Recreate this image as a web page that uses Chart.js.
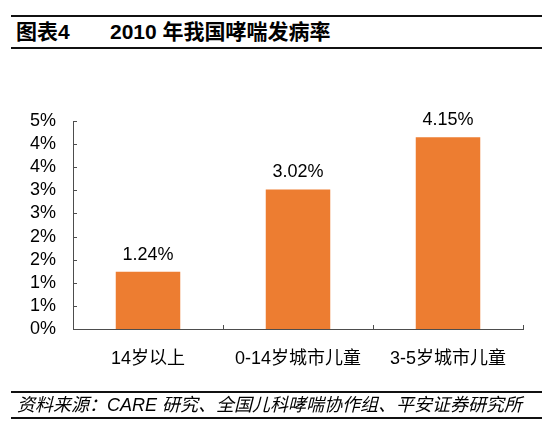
<!DOCTYPE html>
<html>
<head>
<meta charset="utf-8">
<script src="https://cdn.jsdelivr.net/npm/chart.js@4.4.1/dist/chart.umd.min.js"></script>
<style>
  body { margin: 0; background: #fff; }
  #wrap {
    position: relative;
    width: 554px;
    height: 428px;
    overflow: hidden;
    font-family: "Liberation Sans", "Noto Sans CJK SC", sans-serif;
    color: #000;
  }
  .rule { position: absolute; left: 11px; width: 531px; height: 2px; background: #111; }
  #title { position: absolute; top: 17px; font-size: 21px; font-weight: bold; line-height: 30px; white-space: nowrap; }
  #source { position: absolute; left: 17px; top: 393px; font-size: 18px; font-style: italic; line-height: 24px; white-space: nowrap; }
  canvas { position: absolute; left: 0; top: 0; }
</style>
</head>
<body>
<div id="wrap">
  <div class="rule" style="top:15px"></div>
  <div id="title"><span style="position:absolute;left:16px">图表4</span><span style="position:absolute;left:110px">2010 年我国哮喘发病率</span></div>
  <div class="rule" style="top:47px"></div>
  <canvas id="chart" width="554" height="428"></canvas>
  <div class="rule" style="top:391px"></div>
  <div id="source">资料来源：CARE 研究、全国儿科哮喘协作组、平安证券研究所</div>
  <div class="rule" style="top:417px"></div>
</div>
<script>
const categories = ["14岁以上", "0-14岁城市儿童", "3-5岁城市儿童"];
const rates = [1.24, 3.02, 4.15];
const yTicks = [0, 0.5, 1, 1.5, 2, 2.5, 3, 3.5, 4, 4.5];

const fontFamily = "'Liberation Sans', 'Noto Sans CJK SC', sans-serif";
const axisColor = "#4d4d4d";

// tick marks point into the plot, like the Excel original
const innerTicks = {
  id: "innerTicks",
  afterDraw(chart) {
    const c = chart.ctx;
    const x = chart.scales.x;
    const y = chart.scales.y;
    c.save();
    c.strokeStyle = axisColor;
    c.lineWidth = 1;
    c.beginPath();
    yTicks.forEach((v) => {
      const py = Math.round(y.getPixelForValue(v)) + 0.5;
      c.moveTo(x.left, py);
      c.lineTo(x.left + 4, py);
    });
    const step = x.width / categories.length;
    for (let i = 1; i <= categories.length; i++) {
      const px = Math.round(x.left + i * step) + 0.5;
      c.moveTo(px, y.bottom);
      c.lineTo(px, y.bottom - 4);
    }
    c.stroke();
    c.restore();
  },
};

const valueLabels = {
  id: "valueLabels",
  afterDatasetsDraw(chart) {
    const c = chart.ctx;
    const meta = chart.getDatasetMeta(0);
    c.save();
    c.fillStyle = "#000";
    c.font = "18px " + fontFamily;
    c.textAlign = "center";
    c.textBaseline = "middle";
    meta.data.forEach((bar, i) => {
      c.fillText(rates[i].toFixed(2) + "%", bar.x, bar.y - 17);
    });
    c.restore();
  },
};

new Chart(document.getElementById("chart"), {
  type: "bar",
  data: {
    labels: categories,
    datasets: [
      {
        data: rates,
        backgroundColor: "#ED7D31",
        borderWidth: 0,
        categoryPercentage: 1,
        barPercentage: 0.43,
      },
    ],
  },
  options: {
    responsive: false,
    animation: false,
    layout: { padding: { left: 0, right: 31, top: 121, bottom: 43 } },
    plugins: { legend: { display: false }, tooltip: { enabled: false } },
    scales: {
      x: {
        grid: { display: false, drawTicks: false },
        border: { display: true, color: axisColor, width: 1 },
        ticks: { color: "#000", font: { size: 18, family: fontFamily }, padding: 19, maxRotation: 0 },
        afterFit(scale) { scale.height = 56; },
      },
      y: {
        min: 0,
        max: 4.5,
        afterBuildTicks(scale) { scale.ticks = yTicks.map((v) => ({ value: v })); },
        grid: { display: false, drawTicks: false },
        border: { display: true, color: axisColor, width: 1 },
        ticks: {
          autoSkip: false,
          color: "#000",
          font: { size: 18, family: fontFamily },
          padding: 17,
          callback: (v) => Math.round(v) + "%",
        },
        afterFit(scale) { scale.width = 73; },
      },
    },
  },
  plugins: [innerTicks, valueLabels],
});
</script>
</body>
</html>
